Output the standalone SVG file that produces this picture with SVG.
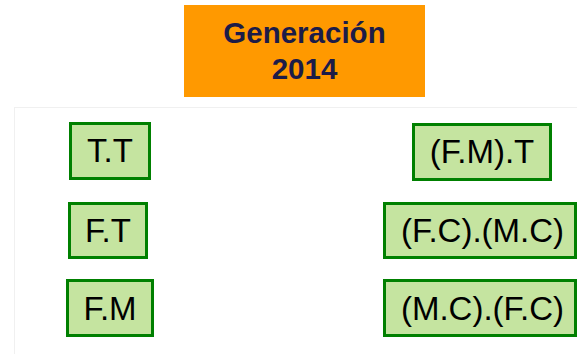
<svg xmlns="http://www.w3.org/2000/svg" width="577" height="354" viewBox="0 0 577 354">
<style>
.box{fill:#c5e4a0;stroke:#008000;stroke-width:3}
.lbl{font-family:"Liberation Sans",Arial,sans-serif;font-size:33px;fill:#000;text-anchor:middle}
.title{font-family:"Liberation Sans",Arial,sans-serif;font-size:29.5px;font-weight:bold;fill:#1c1c48;text-anchor:middle}
</style>
<rect x="0" y="0" width="577" height="354" fill="#fff"/>
<rect x="14.5" y="107.5" width="620" height="300" fill="#fff" stroke="#f0f0f0" stroke-width="1"/>
<g id="title">
<rect x="184" y="5" width="241" height="92" fill="#ff9900"/>
<text class="title" x="304.5" y="43">Generación</text>
<text class="title" x="304.5" y="79">2014</text>
</g>
<g id="connectors"></g>
<g id="n-tt"><rect class="box" x="70.5" y="123.5" width="79" height="55"/><text class="lbl" x="110" y="162">T.T</text></g>
<g id="n-ft"><rect class="box" x="69.5" y="203.5" width="77" height="54"/><text class="lbl" x="108" y="242">F.T</text></g>
<g id="n-fm"><rect class="box" x="67.5" y="280.5" width="85" height="55"/><text class="lbl" x="110" y="320">F.M</text></g>
<g id="n-fmt"><rect class="box" x="413.5" y="124.5" width="137" height="55"/><text class="lbl" x="482" y="163">(F.M).T</text></g>
<g id="n-fcmc"><rect class="box" x="384.5" y="203.5" width="191" height="54"/><text class="lbl" x="482.5" y="242">(F.C).(M.C)</text></g>
<g id="n-mcfc"><rect class="box" x="384.5" y="280.5" width="191" height="55"/><text class="lbl" x="482.5" y="320">(M.C).(F.C)</text></g>
</svg>
